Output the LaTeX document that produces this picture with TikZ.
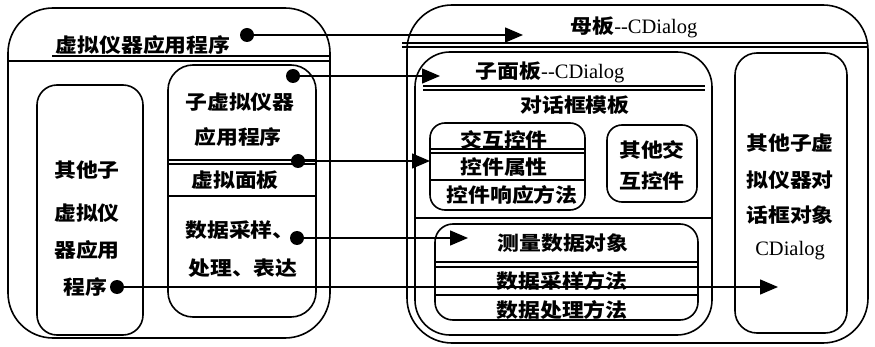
\documentclass[tikz,border=0pt]{standalone}
\usepackage{fontspec}
\setmainfont{Liberation Serif}
\newfontfamily\cjk{Noto Sans CJK SC}[FakeStretch=1.12]
\usetikzlibrary{arrows.meta}
\begin{document}
\begin{tikzpicture}[x=1pt,y=-1pt,
  box/.style={draw, line width=1.6pt, rounded corners=#1, inner sep=0pt},
  box/.default=20pt,
  cn/.style={font=\cjk\bfseries\fontsize{19.5}{22}\selectfont, inner sep=0pt},
  lat/.style={font=\fontsize{20.5}{22}\selectfont, inner sep=0pt},
  dot/.style={circle, fill, inner sep=0pt, minimum size=14pt},
  link/.style={line width=1.5pt, -{Triangle[length=18pt,width=15pt]}},
  sep/.style={line width=1.5pt}]
\useasboundingbox[fill=white] (0,0) rectangle (875,347);

% ---- boxes ----
\node[box=45pt, minimum width=322pt, minimum height=330pt] (L) at (169,173) {};
\node[box=20pt, minimum width=106pt, minimum height=250pt] (Lo) at (90,210) {};
\node[box=25pt, minimum width=148pt, minimum height=252pt] (Ls) at (242,191) {};
\node[box=45pt, minimum width=461pt, minimum height=338pt] (R) at (637.5,174) {};
\node[box=35pt, minimum width=297pt, minimum height=283pt] (Rs) at (563.5,193.5) {};
\node[box=15pt, minimum width=155pt, minimum height=87pt] (Ri) at (507.5,166.5) {};
\node[box=15pt, minimum width=90pt, minimum height=77pt] (Roi) at (652,163.5) {};
\node[box=18pt, minimum width=263pt, minimum height=96pt] (Rm) at (566.5,272) {};
\node[box=22pt, minimum width=112pt, minimum height=280pt] (Ro) at (791,193) {};

% ---- separator lines ----
\draw[sep] (52,56) -- (330,56);
\draw[sep] (8,61) -- (330,61);
\draw[sep] (168,160) -- (316,160);
\draw[sep] (168,164) -- (316,164);
\draw[sep] (168,196) -- (316,196);
\draw[sep] (402,43) -- (868,43);
\draw[sep] (402,47) -- (868,47);
\draw[sep] (423,86) -- (705,86);
\draw[sep] (423,90) -- (705,90);
\draw[sep] (415,218) -- (712,218);
\draw[sep] (430,149) -- (585,149);
\draw[sep] (430,153) -- (585,153);
\draw[sep] (430,180) -- (585,180);
\draw[sep] (435,262) -- (698,262);
\draw[sep] (435,267) -- (698,267);
\draw[sep] (435,295) -- (698,295);

% ---- texts ----
\node[cn] (title) at (143,45) {虚拟仪器应用程序};
\node[cn] (s1a) at (240,102) {子虚拟仪器};
\node[cn] (s1b) at (238,137) {应用程序};
\node[cn] (s2) at (235,180) {虚拟面板};
\node[cn] (s3a) at (240,230) {数据采样、};
\node[cn] (s3b) at (243,268) {处理、表达};
\node[cn] (o1) at (87,170) {其他子};
\node[cn] (o2) at (87,213) {虚拟仪};
\node[cn] (o3) at (87,250) {器应用};
\node[cn] (o4) at (85,287) {程序};
\node[lat] (mt) at (634,27) {{\cjk\bfseries\fontsize{19.5}{22}\selectfont 母板}-{}-CDialog};
\node[lat] (st) at (550,72) {{\cjk\bfseries\fontsize{19.5}{22}\selectfont 子面板}-{}-CDialog};
\node[cn] (tpl) at (575,105) {对话框模板};
\node[cn] (i1) at (504,140) {交互控件};
\node[cn] (i2) at (504,167) {控件属性};
\node[cn] (i3) at (512,195) {控件响应方法};
\node[cn] (oi1) at (652,150) {其他交};
\node[cn] (oi2) at (652,181) {互控件};
\node[cn] (me1) at (563,243) {测量数据对象};
\node[cn] (me2) at (562,281) {数据采样方法};
\node[cn] (me3) at (562,310) {数据处理方法};
\node[cn] (r1) at (790,143) {其他子虚};
\node[cn] (r2) at (790,180) {拟仪器对};
\node[cn] (r3) at (790,215) {话框对象};
\node[lat] (r4) at (790,251) {CDialog};

% ---- connectors ----
\node[dot] (d1) at (247,35) {};
\node[dot] (d2) at (293,76) {};
\node[dot] (d3) at (298,161) {};
\node[dot] (d4) at (297,238) {};
\node[dot] (d5) at (117,287) {};
\coordinate (t1) at (523,35);
\coordinate (t2) at (440,76);
\coordinate (t3) at (430,161);
\coordinate (t4) at (468,238);
\coordinate (t5) at (778,287);
\draw[link] (d1) -- (t1);
\draw[link] (d2) -- (t2);
\draw[link] (d3) -- (t3);
\draw[link] (d4) -- (t4);
\draw[link] (d5) -- (t5);
\end{tikzpicture}
\end{document}
